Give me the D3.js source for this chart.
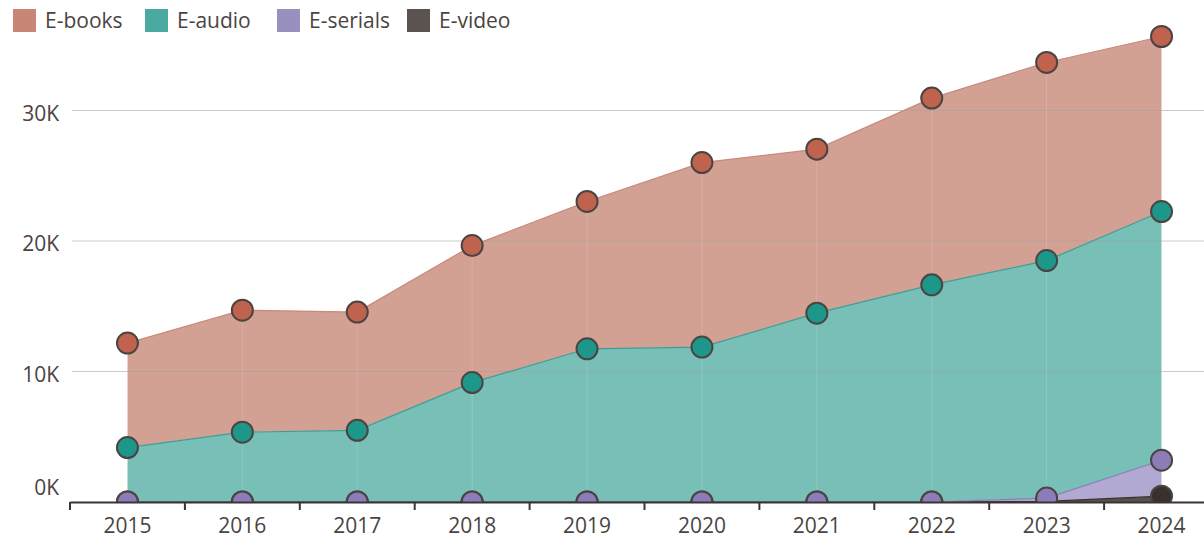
<!DOCTYPE html>
<html lang="en">
<head>
<meta charset="utf-8">
<title>E-content circulation</title>
<script src="https://cdn.jsdelivr.net/npm/d3@7"></script>
<style>
    body { margin: 0; background: #fff; }
    svg { display: block; font-family: "Open Sans", sans-serif; }
</style>
</head>
<body>
<div id="svg-container"></div>
<script>
    // values (stack order bottom -> top: video, serials, audio, books)
    const years    = ["2015", "2016", "2017", "2018", "2019", "2020", "2021", "2022", "2023", "2024"];
    const eVideo   = [0, 0, 0, 0, 0, 0, 0, 0, 50, 450];
    const eSerials = [0, 0, 0, 0, 0, 0, 0, 0, 250, 2750];
    const eAudio   = [4170, 5350, 5490, 9150, 11740, 11870, 14470, 16640, 18200, 19060];
    const eBooks   = [8010, 9350, 9060, 10500, 11290, 14140, 12570, 14310, 15180, 13410];
    const yTicks   = [0, 10000, 20000, 30000];

    const seriesNames = ["E-books", "E-audio", "E-serials", "E-video"];
    const dotColors   = {"E-books": "#bf634f", "E-audio": "#1d978a", "E-serials": "#8c7db9", "E-video": "#3a302e"};
    const areaColors  = {"E-books": "#d3a094", "E-audio": "#78bfb8", "E-serials": "#b2a9d2", "E-video": "#5a504e"};
    const swatchColors = {"E-books": "#c98575", "E-audio": "#4aa9a0", "E-serials": "#9a90c0", "E-video": "#5b5350"};

    const width = 1204, height = 539;
    const left = 70, baseline = 502;

    const rows = years.map((y, i) => ({
        year: y,
        "E-video": eVideo[i],
        "E-serials": eSerials[i],
        "E-audio": eAudio[i],
        "E-books": eBooks[i]
    }));

    const stack = d3.stack().keys(["E-video", "E-serials", "E-audio", "E-books"]);
    const layers = stack(rows);

    const xScale = d3.scaleBand()
        .domain(years)
        .range([left, left + 114.9 * years.length])
        .padding(0);
    const xc = (d) => xScale(d) + xScale.bandwidth() / 2;

    const yScale = d3.scaleLinear()
        .domain([0, 30000])
        .range([baseline, baseline - 391.5]);

    const svg = d3.select("#svg-container")
        .append("svg")
        .attr("width", width)
        .attr("height", height);

    svg.append("defs").append("clipPath")
        .attr("id", "plot-clip")
        .append("rect")
        .attr("x", 0).attr("y", 0)
        .attr("width", width).attr("height", baseline);

    const plot = svg.append("g").attr("clip-path", "url(#plot-clip)");

    const area = d3.area()
        .x(d => xc(d.data.year))
        .y0(d => yScale(d[0]))
        .y1(d => yScale(d[1]));

    const topLine = d3.line()
        .x(d => xc(d.data.year))
        .y(d => yScale(d[1]));

    plot.selectAll("path.area")
        .data(layers)
        .enter()
        .append("path")
        .attr("class", "area")
        .attr("d", area)
        .attr("fill", d => areaColors[d.key]);

    // horizontal grid, drawn over the areas but faint
    plot.append("g")
        .selectAll("line")
        .data(yTicks.filter(t => t > 0))
        .enter()
        .append("line")
        .attr("x1", 72).attr("x2", width)
        .attr("y1", d => yScale(d)).attr("y2", d => yScale(d))
        .attr("stroke", "#a0a0a0")
        .attr("stroke-opacity", 0.55)
        .attr("stroke-width", 1);

    plot.selectAll("path.edge")
        .data(layers)
        .enter()
        .append("path")
        .attr("class", "edge")
        .attr("d", topLine)
        .attr("fill", "none")
        .attr("stroke", d => d.key === "E-books" ? "#c98a7c" : d.key === "E-audio" ? "#3c9f95" : dotColors[d.key])
        .attr("stroke-width", 1.2);

    // faint vertical lines at each year
    plot.append("g")
        .selectAll("line")
        .data(years)
        .enter()
        .append("line")
        .attr("x1", d => xc(d)).attr("x2", d => xc(d))
        .attr("y1", d => yScale(layers[3][years.indexOf(d)][1]))
        .attr("y2", baseline)
        .attr("stroke", "#ffffff")
        .attr("stroke-opacity", 0.15)
        .attr("stroke-width", 1);

    // dots, video first so serials sit on top of it at zero
    layers.forEach(layer => {
        plot.append("g")
            .selectAll("circle")
            .data(layer)
            .enter()
            .append("circle")
            .attr("cx", d => xc(d.data.year))
            .attr("cy", d => yScale(d[1]))
            .attr("r", 10.5)
            .attr("fill", dotColors[layer.key])
            .attr("stroke", "#4a4442")
            .attr("stroke-width", 2);
    });

    // y labels
    svg.append("g")
        .selectAll("text")
        .data(yTicks)
        .enter()
        .append("text")
        .attr("x", 59)
        .attr("y", d => d === 0 ? yScale(d) - 14 : yScale(d) + 3)
        .attr("dy", "0.35em")
        .attr("text-anchor", "end")
        .attr("font-size", 21)
        .attr("fill", "#4a4442")
        .text(d => d3.format(".0f")(d / 1000) + "K");

    // x axis
    const xAxis = d3.axisBottom(xScale).tickSize(0).tickPadding(16);
    const gx = svg.append("g")
        .attr("transform", "translate(0," + baseline + ")")
        .call(xAxis);
    gx.select(".domain").attr("stroke", "#3a3432").attr("stroke-width", 2);
    gx.selectAll("text")
        .attr("font-size", 21)
        .attr("font-family", "Open Sans, sans-serif")
        .attr("fill", "#4a4442");

    // tick marks at band edges
    gx.append("g")
        .selectAll("line")
        .data(years)
        .enter()
        .append("line")
        .attr("x1", d => xScale(d)).attr("x2", d => xScale(d))
        .attr("y1", 0).attr("y2", 8)
        .attr("stroke", "#3a3432")
        .attr("stroke-width", 2);

    // legend
    const legendX = [13, 145, 277, 407];
    const legend = svg.append("g")
        .selectAll("g")
        .data(seriesNames)
        .enter()
        .append("g")
        .attr("transform", (d, i) => "translate(" + legendX[i] + ",9)");
    legend.append("rect")
        .attr("width", 23).attr("height", 23)
        .attr("fill", d => swatchColors[d]);
    legend.append("text")
        .attr("x", 32).attr("y", 12)
        .attr("dy", "0.35em")
        .attr("font-size", 21)
        .attr("fill", "#4a4442")
        .text(d => d);
</script>
</body>
</html>
